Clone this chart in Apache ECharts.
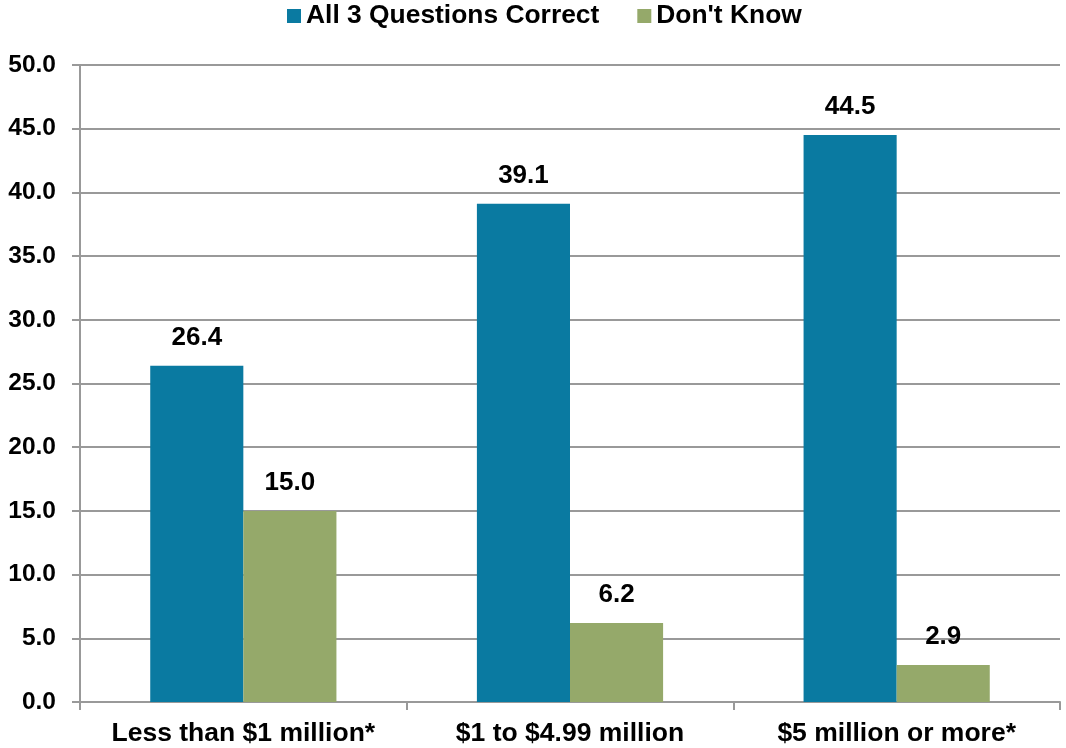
<!DOCTYPE html>
<html>
<head>
<meta charset="utf-8">
<script src="https://cdn.jsdelivr.net/npm/echarts@6/dist/echarts.min.js"></script>
<style>html,body{margin:0;padding:0;background:#fff;}#c{width:1066px;height:748px;}</style>
</head>
<body>
<div id="c"></div>
<script>
var categories = ['Less than $1 million*', '$1 to $4.99 million', '$5 million or more*'];
var seriesNames = ['All 3 Questions Correct', "Don't Know"];
var allCorrect = [26.4, 39.1, 44.5];
var dontKnow = [15.0, 6.2, 2.9];
var yMin = 0, yMax = 50, yInterval = 5;

var font = 'Liberation Sans, Arial, sans-serif';
var chart = echarts.init(document.getElementById('c'), null, {renderer: 'canvas'});
var labelCfg = {
  show: true, position: 'top', distance: 15,
  color: '#000', fontWeight: 'bold', fontSize: 26, fontFamily: font,
  formatter: function (p) { return p.value.toFixed(1); }
};
chart.setOption({
  animation: false,
  legend: {
    top: -2, left: 282,
    itemWidth: 14, itemHeight: 14, itemGap: 38,
    icon: 'rect',
    textStyle: {fontSize: 26.4, fontWeight: 'bold', color: '#000', fontFamily: font},
    data: seriesNames
  },
  grid: {left: 80, right: 6, top: 65, bottom: 46, containLabel: false},
  xAxis: {
    type: 'category', data: categories,
    axisLine: {lineStyle: {color: '#999', width: 2}},
    axisTick: {show: true, interval: 0, length: 8, lineStyle: {color: '#999', width: 2}},
    axisLabel: {interval: 0, margin: 18, color: '#000', fontSize: 26.5, fontWeight: 'bold', fontFamily: font}
  },
  yAxis: {
    type: 'value', min: yMin, max: yMax, interval: yInterval,
    axisLine: {show: true, lineStyle: {color: '#999', width: 2}},
    axisTick: {show: true, length: 8, lineStyle: {color: '#999', width: 2}},
    splitLine: {lineStyle: {color: '#999', width: 2}},
    axisLabel: {margin: 24, color: '#000', fontSize: 24.5, fontWeight: 'bold', fontFamily: font,
      formatter: function (v) { return v.toFixed(1); }}
  },
  series: [
    {name: seriesNames[0], type: 'bar', data: allCorrect, barGap: '0%', barCategoryGap: '43%',
     itemStyle: {color: '#0A7AA1'}, label: labelCfg},
    {name: seriesNames[1], type: 'bar', data: dontKnow, barGap: '0%', barCategoryGap: '43%',
     itemStyle: {color: '#95A96A'}, label: labelCfg}
  ]
});
</script>
</body>
</html>
